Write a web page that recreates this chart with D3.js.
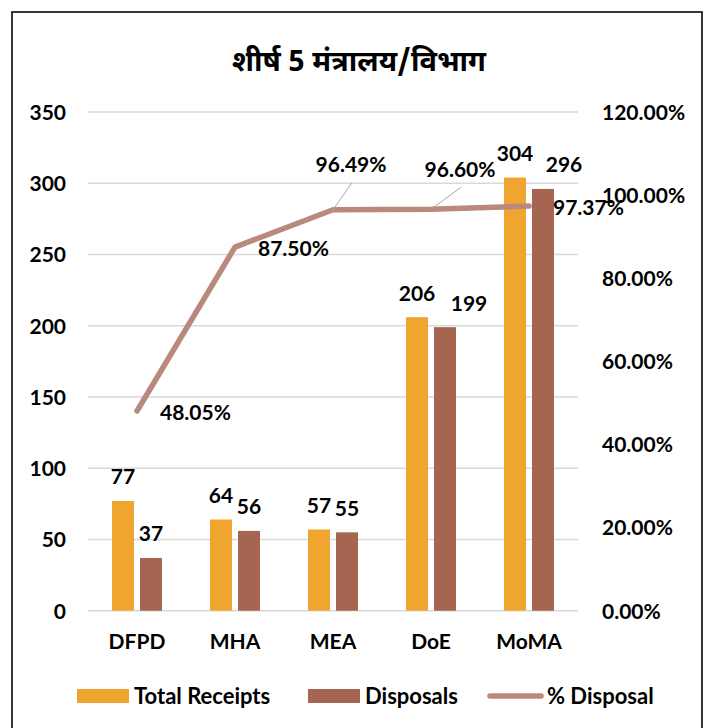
<!DOCTYPE html>
<html>
<head>
<meta charset="utf-8">
<script src="https://cdn.jsdelivr.net/npm/d3@7"></script>
<style>
  body { margin: 0; background: #fff; }
  text { font-family: Lato, "Open Sans", sans-serif; font-weight: bold; fill: #000; }
</style>
</head>
<body>
<div id="chart"></div>
<script>
// chart data
var categories = ["DFPD", "MHA", "MEA", "DoE", "MoMA"];
var receipts = [77, 64, 57, 206, 304];
var disposals = [37, 56, 55, 199, 296];
var pctDisposal = [48.05, 87.50, 96.49, 96.60, 97.37];
var leftTicks = [0, 50, 100, 150, 200, 250, 300, 350];
var rightTicks = [0, 20, 40, 60, 80, 100, 120];
var legendNames = ["Total Receipts", "Disposals", "% Disposal"];
var titleText = "शीर्ष 5 मंत्रालय/विभाग";

var colors = { receipts: "#F0A530", disposals: "#A66550", line: "#B9897D", grid: "#D9D9D9" };

// label placement for the % line (offset from the point, leader line when moved away)
var pctLabelPos = [
    { dx: 23, dy: 2, anchor: "start" },
    { dx: 23, dy: 2, anchor: "start" },
    { dx: 18, dy: -45, anchor: "middle", leader: true },
    { dx: 29, dy: -40, anchor: "middle", leader: true },
    { dx: 24, dy: 2, anchor: "start" }
];
// sideways nudge of the disposals value labels (Excel moved two of them)
var disposalLabelDx = [0, 0, 0, 24, 21];

var W = 713, H = 728;
var plot = { left: 88, right: 578, top: 112, bottom: 610.7 };

var svg = d3.select("#chart").append("svg")
    .attr("width", W)
    .attr("height", H);

// frame
svg.append("rect")
    .attr("x", 12).attr("y", 12)
    .attr("width", 690).attr("height", 740)
    .attr("fill", "none")
    .attr("stroke", "#222")
    .attr("stroke-width", 1.8);

// title
svg.append("text")
    .attr("x", 359).attr("y", 71)
    .attr("text-anchor", "middle")
    .style("font-family", "'Noto Sans Devanagari', 'Lohit Devanagari', 'Noto Sans', sans-serif")
    .style("font-size", "29px")
    .text(titleText);

// scales
var x = d3.scaleBand()
    .domain(categories)
    .range([plot.left, plot.right]);

var xSub = d3.scaleBand()
    .domain(["receipts", "disposals"])
    .range([x.bandwidth() * 0.245, x.bandwidth() * 0.755])
    .paddingInner(0.214);

var y = d3.scaleLinear().domain([0, 350]).range([plot.bottom, plot.top]);
var y2 = d3.scaleLinear().domain([0, 120]).range([plot.bottom, plot.top]);

// gridlines
svg.append("g")
    .selectAll("line")
    .data(leftTicks)
    .enter().append("line")
    .attr("x1", plot.left).attr("x2", plot.right)
    .attr("y1", function(d) { return y(d); })
    .attr("y2", function(d) { return y(d); })
    .attr("stroke", colors.grid)
    .attr("stroke-width", 1.5);

// left axis
var yAxis = d3.axisLeft(y).tickValues(leftTicks).tickSize(0).tickPadding(22);
var yg = svg.append("g")
    .attr("transform", "translate(" + plot.left + ",0)")
    .call(yAxis);
yg.select(".domain").remove();
yg.selectAll("text").style("font-size", "21px").attr("dy", "0.35em");

// right axis
var y2Axis = d3.axisRight(y2).tickValues(rightTicks).tickSize(0).tickPadding(24)
    .tickFormat(function(d) { return d3.format(".2f")(d) + "%"; });
var y2g = svg.append("g")
    .attr("transform", "translate(" + plot.right + ",0)")
    .call(y2Axis);
y2g.select(".domain").remove();
y2g.selectAll("text").style("font-size", "21px").attr("dy", "0.35em");

// bottom axis
var xAxis = d3.axisBottom(x).tickSize(0).tickPadding(23);
var xg = svg.append("g")
    .attr("transform", "translate(0," + plot.bottom + ")")
    .call(xAxis);
xg.select(".domain").remove();
xg.selectAll("text").style("font-size", "21px");

// bars
var rows = categories.map(function(c, i) {
    return { cat: c, receipts: receipts[i], disposals: disposals[i], pct: pctDisposal[i], i: i };
});

var groups = svg.append("g").selectAll(".category")
    .data(rows)
    .enter().append("g")
    .attr("class", "category")
    .attr("transform", function(d) { return "translate(" + x(d.cat) + ",0)"; });

["receipts", "disposals"].forEach(function(key) {
    groups.append("rect")
        .attr("x", xSub(key))
        .attr("width", xSub.bandwidth())
        .attr("y", function(d) { return y(d[key]); })
        .attr("height", function(d) { return plot.bottom - y(d[key]); })
        .attr("fill", colors[key]);

    groups.append("text")
        .attr("x", function(d) {
            var nudge = key === "disposals" ? disposalLabelDx[d.i] : 0;
            return xSub(key) + xSub.bandwidth() / 2 + nudge;
        })
        .attr("y", function(d) { return y(d[key]) - 24; })
        .attr("dy", "0.35em")
        .attr("text-anchor", "middle")
        .style("font-size", "21px")
        .text(function(d) { return d[key]; });
});

// % disposal line
var line = d3.line()
    .x(function(d) { return x(d.cat) + x.bandwidth() / 2; })
    .y(function(d) { return y2(d.pct); });

svg.append("path")
    .datum(rows)
    .attr("d", line)
    .attr("fill", "none")
    .attr("stroke", colors.line)
    .attr("stroke-width", 5.5)
    .attr("stroke-linecap", "round")
    .attr("stroke-linejoin", "round");

// line labels
rows.forEach(function(d, i) {
    var px = x(d.cat) + x.bandwidth() / 2, py = y2(d.pct);
    var p = pctLabelPos[i];
    if (p.leader) {
        svg.append("line")
            .attr("x1", px).attr("y1", py)
            .attr("x2", px + p.dx + 1).attr("y2", py + p.dy + 18)
            .attr("stroke", "#A6A6A6")
            .attr("stroke-width", 1);
    }
    svg.append("text")
        .attr("x", px + p.dx)
        .attr("y", py + p.dy)
        .attr("dy", "0.35em")
        .attr("text-anchor", p.anchor)
        .style("font-size", "21px")
        .text(d3.format(".2f")(d.pct) + "%");
});

// legend
var legend = svg.append("g").attr("transform", "translate(0,696)");
var legendItems = [
    { name: legendNames[0], x: 77, type: "rect", color: colors.receipts },
    { name: legendNames[1], x: 308, type: "rect", color: colors.disposals },
    { name: legendNames[2], x: 487, type: "line", color: colors.line }
];
legendItems.forEach(function(it) {
    if (it.type === "rect") {
        legend.append("rect")
            .attr("x", it.x).attr("y", -7)
            .attr("width", 52).attr("height", 14)
            .attr("fill", it.color);
    } else {
        legend.append("line")
            .attr("x1", it.x + 3).attr("x2", it.x + 54)
            .attr("y1", 0).attr("y2", 0)
            .attr("stroke", it.color)
            .attr("stroke-width", 5.5)
            .attr("stroke-linecap", "round");
    }
    legend.append("text")
        .attr("x", it.x + (it.type === "rect" ? 57 : 60))
        .attr("y", 0)
        .attr("dy", "0.35em")
        .style("font-size", "22px")
        .text(it.name);
});
</script>
</body>
</html>
